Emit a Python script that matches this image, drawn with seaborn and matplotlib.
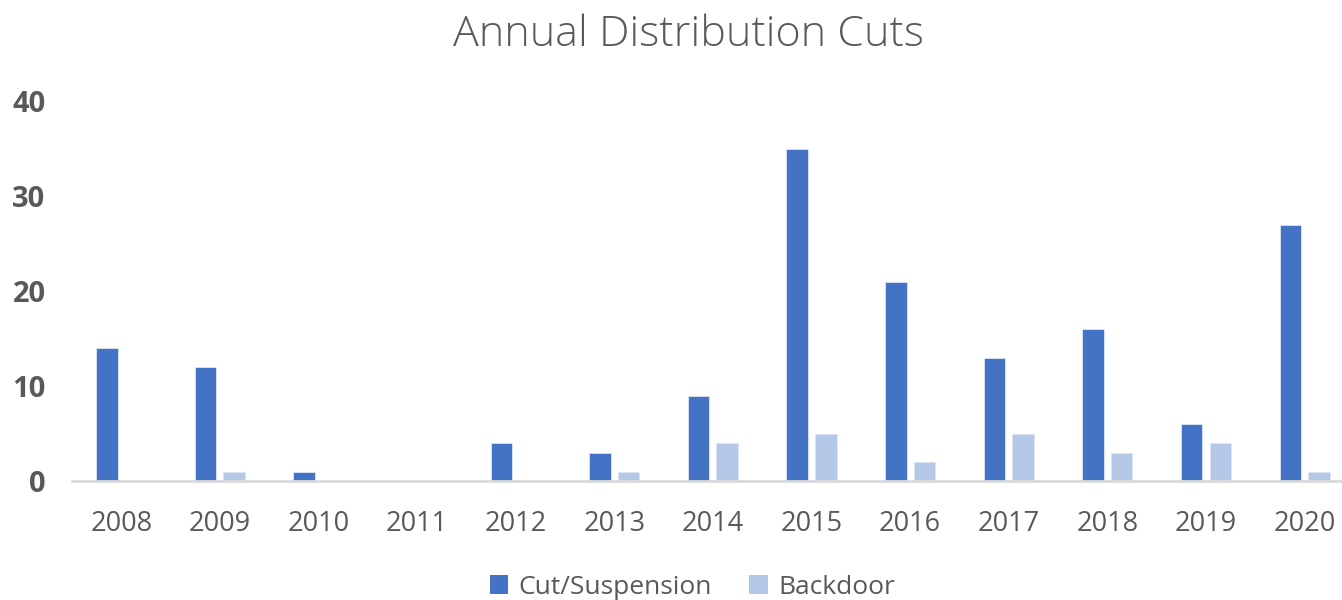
import matplotlib
matplotlib.use("Agg")
import matplotlib.pyplot as plt
import seaborn as sns
import pandas as pd
from matplotlib.patches import Patch

years = ["2008", "2009", "2010", "2011", "2012", "2013", "2014",
         "2015", "2016", "2017", "2018", "2019", "2020"]
cut_suspension = [14, 12, 1, 0, 4, 3, 9, 35, 21, 13, 16, 6, 27]
backdoor = [0, 1, 0, 0, 0, 1, 4, 5, 2, 5, 3, 4, 1]
series_names = ["Cut/Suspension", "Backdoor"]
colors = ["#4472C4", "#B4C7E7"]
y_ticks = [0, 10, 20, 30, 40]

df = pd.DataFrame({
    "Year": years * 2,
    "Value": cut_suspension + backdoor,
    "Series": [series_names[0]] * len(years) + [series_names[1]] * len(years),
})

sns.set_theme(style="white")
plt.rcParams["font.family"] = ["Open Sans", "DejaVu Sans"]

fig = plt.figure(figsize=(13.42, 6.0), dpi=100)
ax = fig.add_axes([72 / 1342, 0.198, 1 - 72 / 1342, 0.6337])

sns.barplot(data=df, x="Year", y="Value", hue="Series", order=years,
            hue_order=series_names, palette=colors, saturation=1,
            width=0.58, gap=0.25, edgecolor="#DCE6F5", linewidth=0.6,
            ax=ax, legend=False)

ax.set_ylim(0, 40)
ax.set_xlim(-0.5, 12.38)
ax.set_yticks(y_ticks)
ax.set_xlabel("")
ax.set_ylabel("")
for s in ["top", "right", "left"]:
    ax.spines[s].set_visible(False)
ax.spines["bottom"].set_color("#D9D9D9")
ax.spines["bottom"].set_linewidth(2)
ax.tick_params(axis="both", length=0)
ax.tick_params(axis="x", labelsize=19.5, labelcolor="#595959", pad=21)
ax.tick_params(axis="y", labelsize=21, labelcolor="#595959", pad=19)
for lbl in ax.get_yticklabels():
    lbl.set_fontweight("bold")
ax.grid(False)

fig.text(0.513, 0.942, "Annual Distribution Cuts", ha="center", va="center",
         fontsize=31, color="#595959", fontweight="light")

handles = [Patch(facecolor=c, edgecolor="none") for c in colors]
fig.legend(handles, series_names, loc="center", bbox_to_anchor=(0.516, 0.021),
           ncol=2, frameon=False, fontsize=19, labelcolor="#595959",
           handlelength=0.7, handleheight=0.7, handletextpad=0.4, columnspacing=1.4)

fig.savefig("out.png", dpi=100)
